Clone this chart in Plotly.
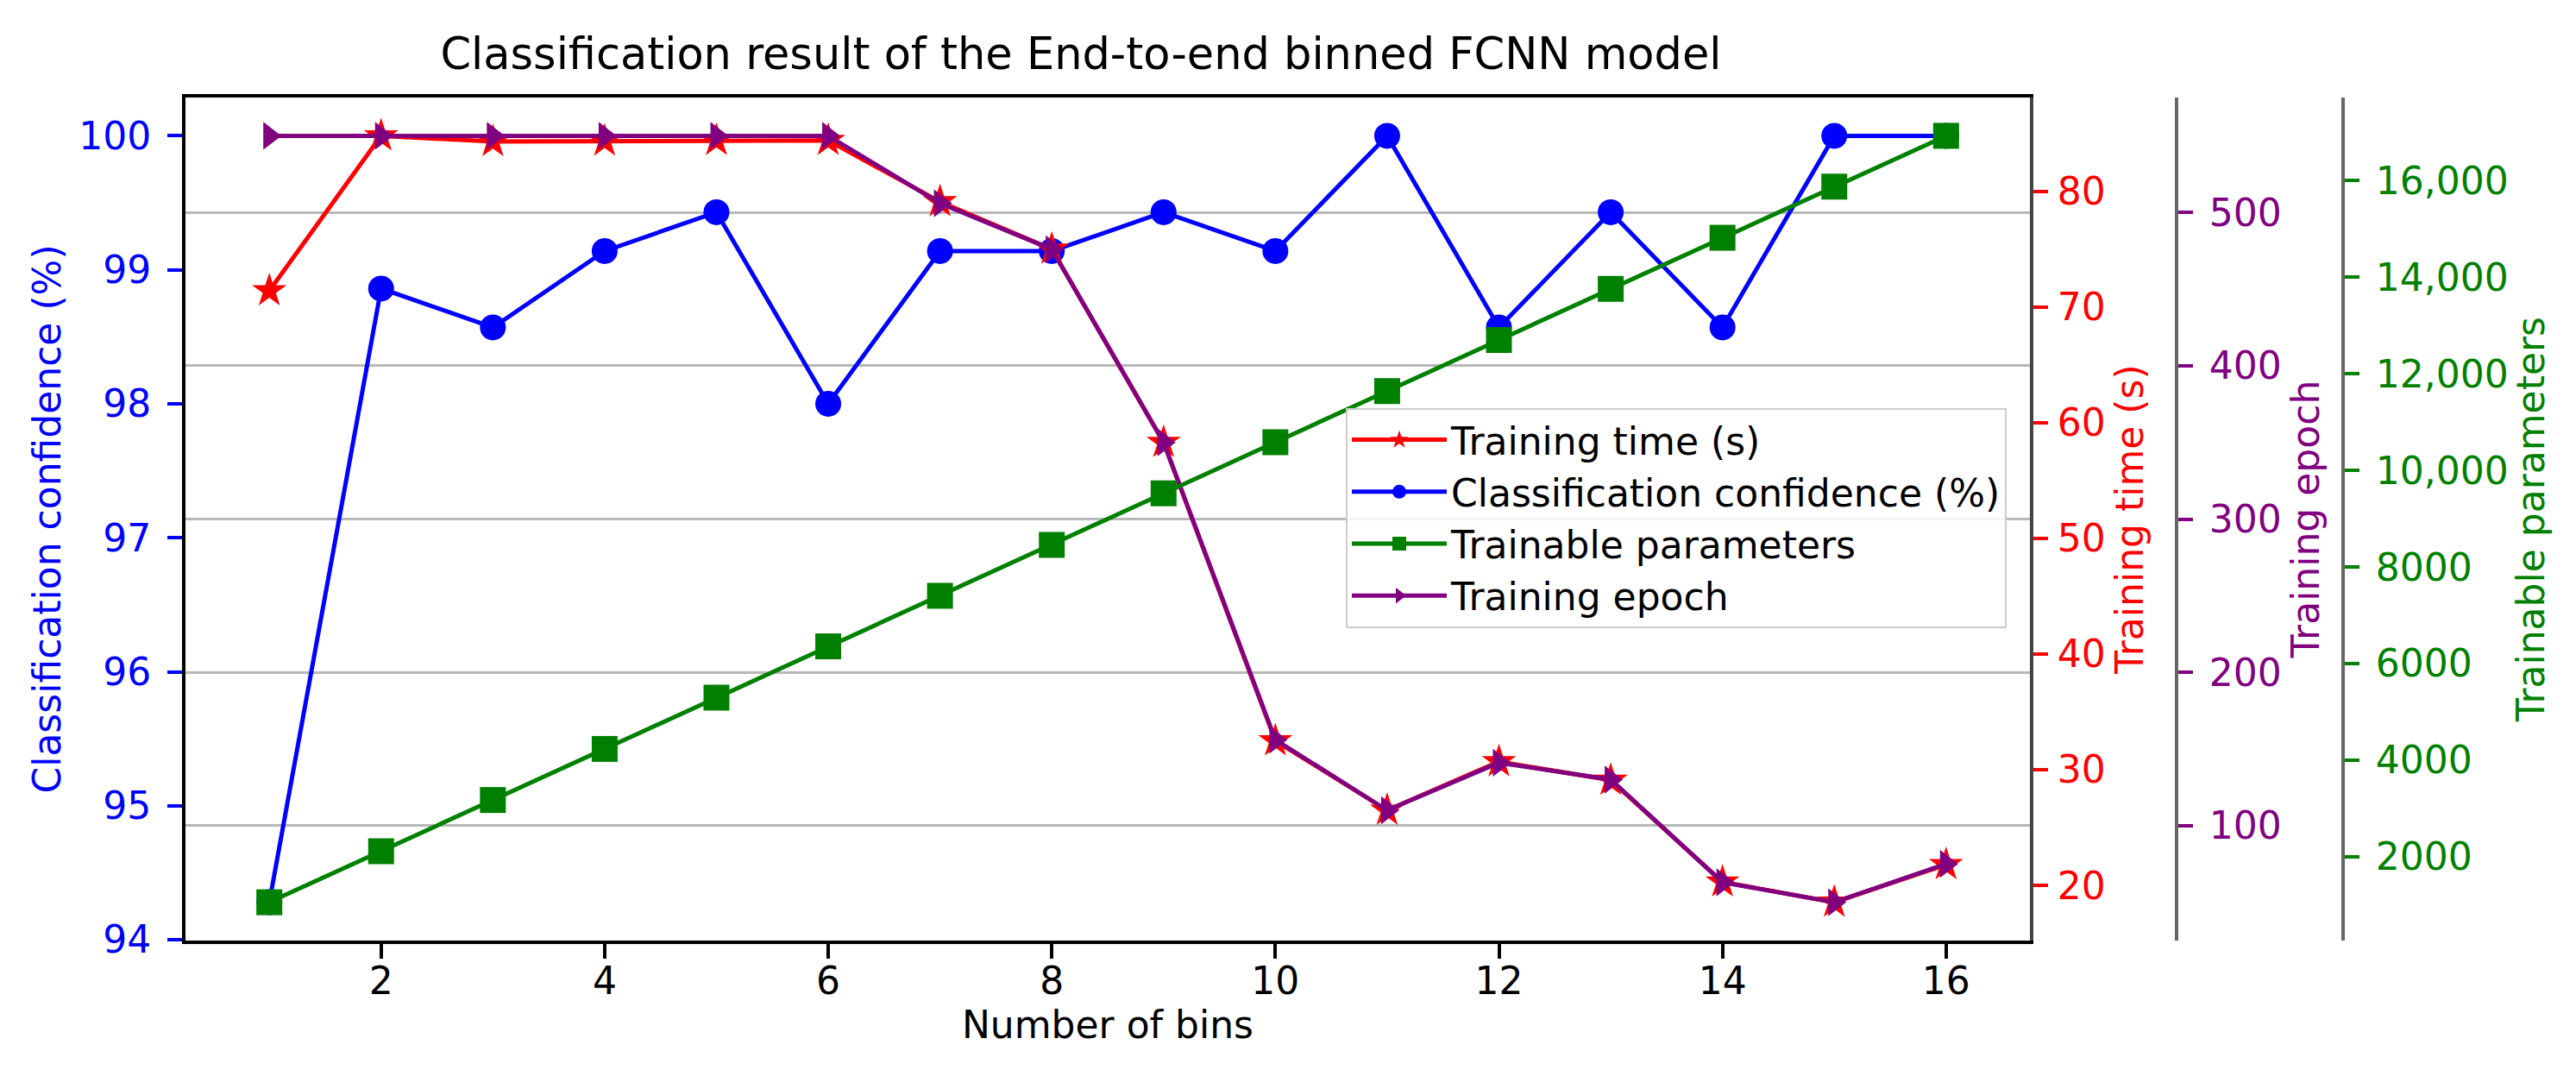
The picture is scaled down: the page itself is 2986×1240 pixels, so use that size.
import plotly.graph_objects as go

# ---------------- data ----------------
bins = [1, 2, 3, 4, 5, 6, 7, 8, 9, 10, 11, 12, 13, 14, 15, 16]
confidence = [94.28, 98.86, 98.57, 99.14, 99.43, 98.00, 99.14, 99.14,
              99.43, 99.14, 100.00, 98.57, 99.43, 98.57, 100.00, 100.00]
training_time = [71.4, 84.8, 84.3, 84.35, 84.4, 84.4, 79.1, 75.0,
                 58.3, 32.5, 26.5, 30.7, 29.1, 20.3, 18.55, 21.8]
training_epoch = [550, 550, 550, 550, 550, 550, 506, 476,
                  350, 156, 110, 141, 130, 63, 50, 75]
trainable_params = [1059, 2115, 3176, 4234, 5296, 6358, 7405, 8459,
                    9527, 10585, 11644, 12702, 13761, 14819, 15878, 16930]

x_ticks = [2, 4, 6, 8, 10, 12, 14, 16]
conf_ticks = [94, 95, 96, 97, 98, 99, 100]
time_ticks = [20, 30, 40, 50, 60, 70, 80]
epoch_ticks = [100, 200, 300, 400, 500]
param_ticks = [2000, 4000, 6000, 8000, 10000, 12000, 14000, 16000]
param_tick_text = ["2000", "4000", "6000", "8000", "10,000", "12,000", "14,000", "16,000"]

title_text = "Classification result of the End-to-end binned FCNN model"

# ---------------- helpers ----------------
def auto_range(vals, m=0.05):
    lo, hi = min(vals), max(vals)
    d = hi - lo
    return [lo - m * d, hi + m * d]

W, H = 2986, 1240
L, R, T, B = 207, 40, 105, 158
pw = W - L - R
plot_right_px = 2345
x_dom_end = (plot_right_px - L) / pw
pos_epoch = (2515 - L) / pw
pos_param = (2708 - L) / pw

FONT = "DejaVu Sans"
FS = 44
BLUE, RED, GREEN, PURPLE = "#0000ff", "#ff0000", "#008000", "#800080"

fig = go.Figure()

fig.add_trace(go.Scatter(
    x=bins, y=confidence, name="Classification confidence (%)",
    mode="lines+markers", line=dict(color=BLUE, width=5),
    marker=dict(symbol="circle", size=30, color=BLUE),
    yaxis="y", legendrank=2))
fig.add_trace(go.Scatter(
    x=bins, y=training_time, name="Training time (s)",
    mode="lines+markers", line=dict(color=RED, width=5),
    marker=dict(symbol="star", size=30, color=RED),
    yaxis="y2", legendrank=1))
fig.add_trace(go.Scatter(
    x=bins, y=training_epoch, name="Training epoch",
    mode="lines+markers", line=dict(color=PURPLE, width=5),
    marker=dict(symbol="triangle-right", size=28, color=PURPLE),
    yaxis="y3", legendrank=4))
fig.add_trace(go.Scatter(
    x=bins, y=trainable_params, name="Trainable parameters",
    mode="lines+markers", line=dict(color=GREEN, width=5),
    marker=dict(symbol="square", size=30, color=GREEN),
    yaxis="y4", legendrank=3))

common = dict(ticks="outside", ticklen=17, tickwidth=4, showgrid=False,
              zeroline=False, automargin=False)

fig.update_layout(
    width=W, height=H,
    margin=dict(l=L, r=R, t=T, b=B, autoexpand=False),
    paper_bgcolor="white", plot_bgcolor="white",
    font=dict(family=FONT, size=FS, color="black"),
    title=dict(text=title_text, font=dict(family=FONT, size=51, color="black"),
               x=1245 / W, xref="container", xanchor="center",
               y=1 - 54 / H, yref="container", yanchor="middle"),
    showlegend=True,
    legend=dict(x=(2318 - L) / pw, xanchor="right",
                y=1 - (592 - T) / (H - T - B), yanchor="middle",
                bgcolor="rgba(255,255,255,0.85)", bordercolor="#cccccc",
                borderwidth=2, font=dict(family=FONT, size=FS, color="black"),
                itemwidth=110),
    xaxis=dict(domain=[0, x_dom_end], range=auto_range(bins),
               tickvals=x_ticks, tickcolor="black",
               tickfont=dict(family=FONT, size=FS, color="black"),
               showline=True, linecolor="black", linewidth=4, mirror=True,
               ticklabelstandoff=-12,
               title=dict(text="Number of bins", font=dict(family=FONT, size=FS, color="black"),
                          standoff=8),
               **common),
    yaxis=dict(range=auto_range(confidence), tickvals=conf_ticks,
               tickcolor=BLUE, tickfont=dict(family=FONT, size=FS, color=BLUE),
               showline=True, linecolor="black", linewidth=4,
               ticklabelstandoff=10,
               title=dict(text="Classification confidence (%)",
                          font=dict(family=FONT, size=FS, color=BLUE), standoff=8),
               **common),
    yaxis2=dict(range=auto_range(training_time), tickvals=time_ticks,
                overlaying="y", side="right", anchor="x",
                tickcolor=RED, tickfont=dict(family=FONT, size=FS, color=RED),
                showline=True, linecolor="#444444", linewidth=4,
                ticklabelstandoff=2,
                title=dict(text="Training time (s)",
                           font=dict(family=FONT, size=FS, color=RED), standoff=14),
                **common),
    yaxis3=dict(range=auto_range(training_epoch), tickvals=epoch_ticks,
                overlaying="y", side="right", anchor="free", position=pos_epoch,
                tickcolor=PURPLE, tickfont=dict(family=FONT, size=FS, color=PURPLE),
                showline=True, linecolor="#666666", linewidth=4,
                ticklabelstandoff=10,
                title=dict(text="Training epoch",
                           font=dict(family=FONT, size=FS, color=PURPLE), standoff=12),
                ticks="outside", ticklen=17, tickwidth=4, zeroline=False, automargin=False,
                showgrid=True, gridcolor="#b8b8b8", gridwidth=3),
    yaxis4=dict(range=auto_range(trainable_params), tickvals=param_ticks,
                ticktext=param_tick_text,
                overlaying="y", side="right", anchor="free", position=pos_param,
                tickcolor=GREEN, tickfont=dict(family=FONT, size=FS, color=GREEN),
                showline=True, linecolor="#666666", linewidth=4,
                ticklabelstandoff=10,
                title=dict(text="Trainable parameters",
                           font=dict(family=FONT, size=FS, color=GREEN), standoff=8),
                **common),
)

fig.write_html("out.html")
